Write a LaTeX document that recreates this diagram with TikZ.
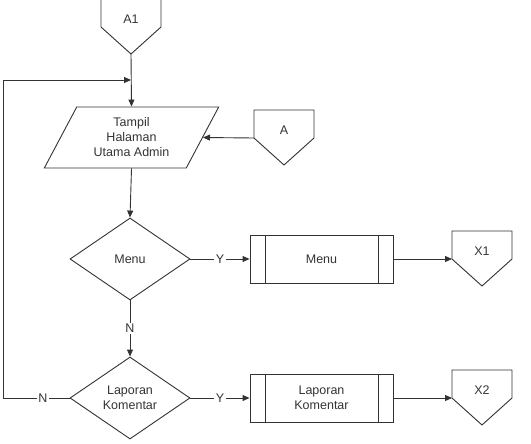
\documentclass[tikz,border=0pt]{standalone}
\usepackage{fontspec}
\setmainfont{Liberation Sans}
\usepackage{tikz}
\usetikzlibrary{arrows.meta,shapes.geometric}
\definecolor{ink}{HTML}{333333}
\newcommand{\flowfont}{\fontsize{12.5}{15}\selectfont}
% off-page connector: name, x, y of the side corners, text
\newcommand{\offpage}[4]{%
  \draw[flow] (#2-30,#3-28) -- (#2+30,#3-28) -- (#2+30,#3) -- (#2,#3+27) -- (#2-30,#3) -- cycle;
  \node[font=\flowfont,text=ink] (#1) at (#2,#3-8) {#4};
  \coordinate (#1-w) at (#2-30,#3);
  \coordinate (#1-s) at (#2,#3+27);
}
\tikzset{
  flow/.style={draw=ink,line width=0.9pt},
  arr/.style={flow,-{Triangle[length=7pt,width=6pt]}},
  disp/.style={trapezium,trapezium left angle=62,trapezium right angle=118,flow,text=ink,
    minimum width=173pt,minimum height=61pt,align=center,font=\flowfont},
  decide/.style={diamond,flow,text=ink,minimum width=120pt,minimum height=82pt,aspect=1.46,
    inner sep=0pt,align=center,font=\flowfont},
  proc/.style={rectangle,flow,text=ink,minimum width=143pt,minimum height=48pt,align=center,font=\flowfont,
    path picture={
      \draw[flow] ([xshift=15pt]path picture bounding box.north west) -- ([xshift=15pt]path picture bounding box.south west);
      \draw[flow] ([xshift=-15pt]path picture bounding box.north east) -- ([xshift=-15pt]path picture bounding box.south east);}},
  lbl/.style={fill=white,inner sep=1.5pt,text=ink,font=\flowfont},
}
\begin{document}
\begin{tikzpicture}[x=1pt,y=-1pt]
  \useasboundingbox (0,0) rectangle (531,444);
  % connectors
  \offpage{a1}{131}{27}{A1}
  \offpage{a}{284}{138}{A}
  \offpage{x1}{482}{259}{X1}
  \offpage{x2}{482}{398}{X2}
  % shapes
  \node[disp] (tampil) at (131.5,137.5) {Tampil\\Halaman\\Utama Admin};
  \node[decide] (dmenu) at (130,259) {Menu};
  \node[proc] (pmenu) at (321.5,259) {Menu};
  \node[decide] (dlapor) at (130,398) {Laporan\\Komentar};
  \node[proc] (plapor) at (321.5,398) {Laporan\\Komentar};
  \coordinate (loop) at (3,398);
  \coordinate (join) at (131,80);
  % lines
  \draw[arr] (a1-s) -- (tampil.north);
  \draw[arr] (a-w) -- (tampil.east);
  \draw[arr] (tampil.south) -- (dmenu.north);
  \draw[arr] (dmenu.east) -- node[lbl] {Y} (pmenu.west);
  \draw[arr] (pmenu.east) -- (x1-w);
  \draw[arr] (dmenu.south) -- node[lbl] {N} (dlapor.north);
  \draw[arr] (dlapor.east) -- node[lbl] {Y} (plapor.west);
  \draw[arr] (plapor.east) -- (x2-w);
  \draw[arr] (dlapor.west) -- node[lbl,pos=0.4] {N} (loop) |- (join);
\end{tikzpicture}
\end{document}
